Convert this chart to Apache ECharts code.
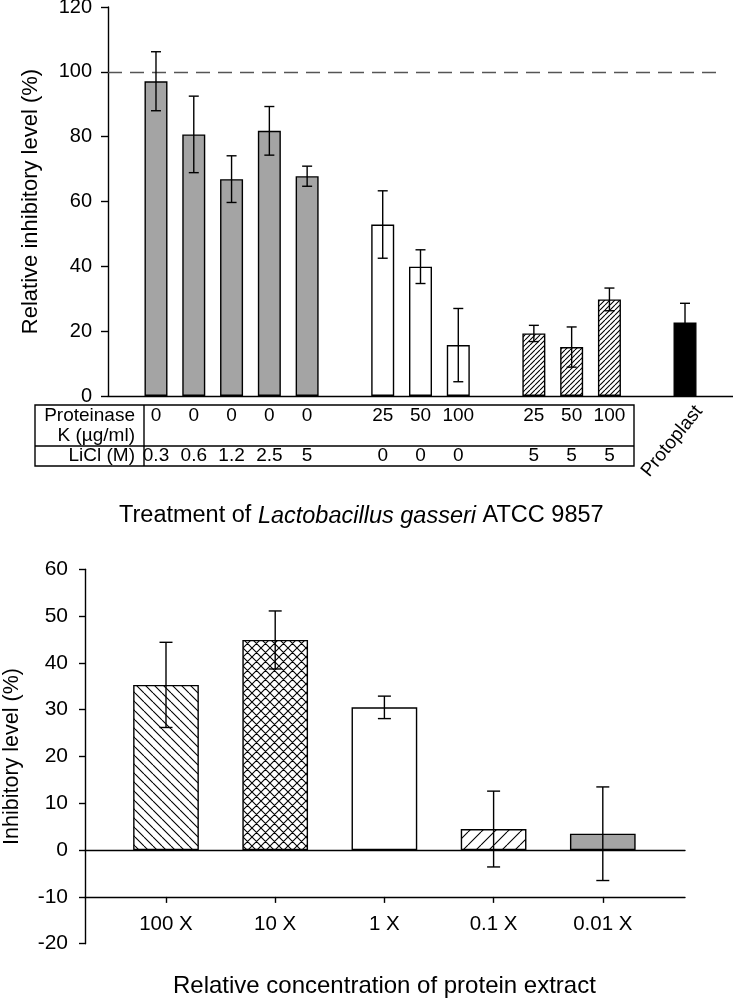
<!DOCTYPE html>
<html><head><meta charset="utf-8">
<script src="https://cdn.jsdelivr.net/npm/echarts@6/dist/echarts.min.js"></script>
<style>html,body{margin:0;padding:0;background:#fff}#c{width:733px;height:999px}</style>
</head><body><div id="c"></div>
<script>
// ---------- Top panel data (slots include empty gap slots) ----------
const topGroups   = ['LiCl','LiCl','LiCl','LiCl','LiCl','','PK','PK','PK','','PK+LiCl','PK+LiCl','PK+LiCl','','Protoplast'];
const topValues   = [97.1, 80.7, 66.9, 81.8, 67.8, null, 52.9, 39.9, 15.7, null, 19.3, 15.1, 29.8, null, 22.7];
const topErrors   = [9.1, 11.8, 7.2, 7.5, 3.1, null, 10.4, 5.2, 11.3, null, 2.5, 6.2, 3.5, null, 5.9];
const proteinaseK = ['0','0','0','0','0','','25','50','100','','25','50','100','',''];
const liCl        = ['0.3','0.6','1.2','2.5','5','','0','0','0','','5','5','5','',''];
const topLabels   = ['','','','','','','','','','','','','','','Protoplast'];
const topRowNames = ['Proteinase', 'K (µg/ml)', 'LiCl (M)'];
const controlLevel = 100;

// ---------- Bottom panel data ----------
const concLabels = ['100 X', '10 X', '1 X', '0.1 X', '0.01 X'];
const concValues = [35.3, 44.9, 30.5, 4.5, 3.5];
const concErrors = [9.1, 6.2, 2.4, 8.1, 10.0];

// ---------- styles ----------
const FONT = '"Liberation Sans", Arial, sans-serif';
const GRAY = '#a4a4a4';
function hatch(s, lw, dirs, bg) {
  const c = document.createElement('canvas'); c.width = c.height = s;
  const g = c.getContext('2d'); g.fillStyle = bg; g.fillRect(0, 0, s, s);
  g.strokeStyle = '#000'; g.lineWidth = lw; g.beginPath();
  for (const d of dirs) for (let k = -1; k <= 1; k++) {
    if (d === '/') { g.moveTo(k * s, s); g.lineTo(k * s + s, 0); }
    else { g.moveTo(k * s, 0); g.lineTo(k * s + s, s); }
  }
  g.stroke();
  return { image: c, repeat: 'repeat' };
}
const topFill = { 'LiCl': GRAY, 'PK': '#fff', 'PK+LiCl': hatch(5, 1.1, ['/'], '#fff'), 'Protoplast': '#000' };
const bottomFill = [hatch(9, 1.1, ['\\'], '#fff'), hatch(9, 1.1, ['/', '\\'], '#fff'), '#fff', hatch(13, 1.1, ['/'], '#fff'), GRAY];

function errRender(cap) {
  return function (params, api) {
    const x = api.value(0), v = api.value(1), e = api.value(2);
    const t = api.coord([x, v + e]), b = api.coord([x, v - e]);
    const st = { stroke: '#000', lineWidth: 1.4 };
    return { type: 'group', children: [
      { type: 'line', shape: { x1: t[0], y1: t[1], x2: b[0], y2: b[1] }, style: st },
      { type: 'line', shape: { x1: t[0] - cap, y1: t[1], x2: t[0] + cap, y2: t[1] }, style: st },
      { type: 'line', shape: { x1: b[0] - cap, y1: b[1], x2: b[0] + cap, y2: b[1] }, style: st }
    ]};
  };
}

const chart = echarts.init(document.getElementById('c'), null, { renderer: 'canvas' });
const axisLineStyle = { color: '#000', width: 1.4 };

const topBarData = [], topErrData = [];
topValues.forEach((v, i) => {
  if (v == null) return;
  topBarData.push({ value: [i, v], itemStyle: { color: topFill[topGroups[i]] } });
  topErrData.push([i, v, topErrors[i]]);
});

const G = { outerBoundsMode: 'none', containLabel: false };
const option = {
  animation: false,
  backgroundColor: '#fff',
  textStyle: { fontFamily: FONT, color: '#000' },
  grid: [
    Object.assign({ left: 108, top: 7, width: 625, height: 389 }, G),
    Object.assign({ left: 85, top: 569.3, width: 600, height: 374.4 }, G),
    Object.assign({ left: 85, top: 569.3, width: 600, height: 280.8 }, G),
    Object.assign({ left: 85, top: 569.3, width: 600, height: 327.6 }, G),
    Object.assign({ left: 111.4, top: 569.3, width: 546, height: 327.6 }, G)
  ],
  xAxis: [
    { gridIndex: 0, type: 'value', min: -1.27, max: 15.27, axisLine: { show: true, onZero: false, lineStyle: axisLineStyle }, axisTick: { show: false }, axisLabel: { show: false }, splitLine: { show: false } },
    { gridIndex: 1, type: 'value', show: false, min: 0, max: 1 },
    { gridIndex: 2, type: 'value', min: 0, max: 1, axisLine: { show: true, onZero: false, lineStyle: axisLineStyle }, axisTick: { show: false }, axisLabel: { show: false }, splitLine: { show: false } },
    { gridIndex: 3, type: 'value', min: 0, max: 1, axisLine: { show: true, onZero: false, lineStyle: axisLineStyle }, axisTick: { show: false }, axisLabel: { show: false }, splitLine: { show: false } },
    { gridIndex: 4, type: 'category', data: concLabels, axisLine: { show: false, onZero: false }, axisTick: { show: true, alignWithLabel: true, length: 6, lineStyle: axisLineStyle }, axisLabel: { fontSize: 20.5, color: '#000', fontFamily: FONT, margin: 17 }, splitLine: { show: false },
      name: 'Relative concentration of protein extract', nameLocation: 'middle', nameGap: 77, nameTextStyle: { fontSize: 24, color: '#000', fontFamily: FONT } }
  ],
  yAxis: [
    { gridIndex: 0, type: 'value', min: 0, max: 120, interval: 20, axisLine: { show: true, onZero: false, lineStyle: axisLineStyle }, axisTick: { show: true, inside: false, length: 7, lineStyle: axisLineStyle }, axisLabel: { fontSize: 20, color: '#000', fontFamily: FONT, margin: 16 }, splitLine: { show: false },
      name: 'Relative inhibitory level (%)', nameLocation: 'middle', nameGap: 66, nameTextStyle: { fontSize: 22, color: '#000', fontFamily: FONT } },
    { gridIndex: 1, type: 'value', min: -20, max: 60, interval: 10, axisLine: { show: true, onZero: false, lineStyle: axisLineStyle }, axisTick: { show: true, inside: false, length: 6, lineStyle: axisLineStyle }, axisLabel: { fontSize: 21, color: '#000', fontFamily: FONT, margin: 17 }, splitLine: { show: false },
      name: 'Inhibitory level (%)', nameLocation: 'middle', nameGap: 62, nameTextStyle: { fontSize: 21.5, color: '#000', fontFamily: FONT } },
    { gridIndex: 2, type: 'value', show: false, min: 0, max: 60 },
    { gridIndex: 3, type: 'value', show: false, min: -10, max: 60 },
    { gridIndex: 4, type: 'value', show: false, min: -10, max: 60 }
  ],
  title: {
    text: '{n|Treatment of }{i|Lactobacillus gasseri}{n| ATCC 9857}',
    left: 114, top: 499,
    textStyle: { fontWeight: 'normal', rich: {
      n: { fontSize: 23.5, fontFamily: FONT, color: '#000', fontWeight: 'normal' },
      i: { fontSize: 23.5, fontFamily: FONT, fontStyle: 'italic', color: '#000', fontWeight: 'normal' }
    } }
  },
  graphic: [
    { type: 'rect', shape: { x: 35, y: 405, width: 599, height: 61 }, style: { fill: 'none', stroke: '#000', lineWidth: 1.4 } },
    { type: 'line', shape: { x1: 144, y1: 405, x2: 144, y2: 466 }, style: { stroke: '#000', lineWidth: 1.4 } },
    { type: 'line', shape: { x1: 35, y1: 446, x2: 634, y2: 446 }, style: { stroke: '#000', lineWidth: 1.4 } },
    { type: 'text', x: 135, y: 416, style: { text: topRowNames[0], font: '19px ' + FONT, fill: '#000', align: 'right', verticalAlign: 'middle' } },
    { type: 'text', x: 135, y: 436, style: { text: topRowNames[1], font: '19px ' + FONT, fill: '#000', align: 'right', verticalAlign: 'middle' } },
    { type: 'text', x: 135, y: 456, style: { text: topRowNames[2], font: '19px ' + FONT, fill: '#000', align: 'right', verticalAlign: 'middle' } }
  ],
  series: [
    { type: 'bar', xAxisIndex: 0, yAxisIndex: 0, barWidth: 23, data: topBarData,
      itemStyle: { borderColor: '#000', borderWidth: 1.4 },
      markLine: { silent: true, symbol: 'none', label: { show: false },
        lineStyle: { type: [14, 8], color: '#555', width: 1.4 },
        data: [[{ coord: [-1.27, controlLevel] }, { coord: [15, controlLevel] }]] } },
    { type: 'custom', xAxisIndex: 0, yAxisIndex: 0, z: 5, data: topErrData, renderItem: errRender(5) },
    { type: 'custom', xAxisIndex: 0, yAxisIndex: 0, z: 5, clip: false, silent: true,
      data: proteinaseK.map((_, i) => [i, 0]),
      renderItem: function (params, api) {
        const i = params.dataIndex;
        const p = api.coord([api.value(0), 0]);
        const f = '19px ' + FONT;
        const ch = [];
        if (proteinaseK[i]) ch.push({ type: 'text', style: { text: proteinaseK[i], x: p[0], y: p[1] + 20, font: f, fill: '#000', align: 'center', verticalAlign: 'middle' } });
        if (liCl[i]) ch.push({ type: 'text', style: { text: liCl[i], x: p[0], y: p[1] + 60, font: f, fill: '#000', align: 'center', verticalAlign: 'middle' } });
        if (topLabels[i]) ch.push({ type: 'text', x: p[0] + 14, y: p[1] + 12, rotation: 51 * Math.PI / 180,
          style: { text: topLabels[i], x: 0, y: 0, font: f, fill: '#000', align: 'right', verticalAlign: 'middle' } });
        return { type: 'group', children: ch };
      } },
    { type: 'bar', xAxisIndex: 4, yAxisIndex: 4, barWidth: 65.7,
      data: concValues.map((v, i) => ({ value: v, itemStyle: { color: bottomFill[i] } })),
      itemStyle: { borderColor: '#000', borderWidth: 1.4 } },
    { type: 'custom', xAxisIndex: 4, yAxisIndex: 4, z: 5, data: concValues.map((v, i) => [i, v, concErrors[i]]), renderItem: errRender(6.5) }
  ]
};
chart.setOption(option);
</script>
</body></html>
